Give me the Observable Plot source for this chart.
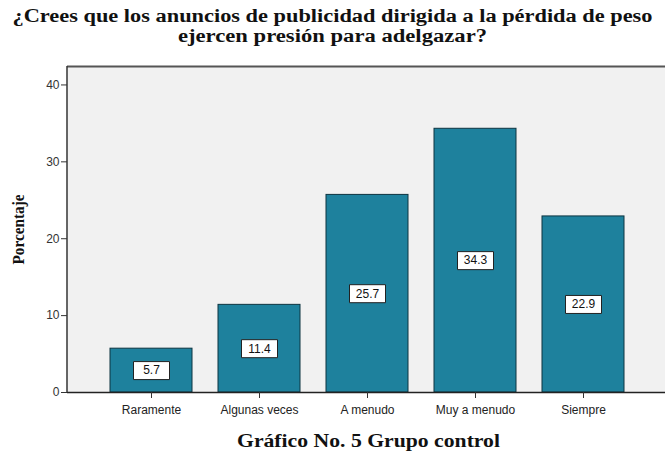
<!DOCTYPE html>
<html><head><meta charset="utf-8">
<script src="https://cdn.jsdelivr.net/npm/d3@7"></script>
<script src="https://cdn.jsdelivr.net/npm/@observablehq/plot@0.6"></script>
<style>body{margin:0;background:#fff}</style>
</head><body><div id="chart"></div>
<script>
const categories = ["Raramente", "Algunas veces", "A menudo", "Muy a menudo", "Siempre"];
const values = [5.7, 11.4, 25.7, 34.3, 22.9];
const yTicks = [0, 10, 20, 30, 40];
const title1 = "¿Crees que los anuncios de publicidad dirigida a la pérdida de peso";
const title2 = "ejercen presión para adelgazar?";
const caption = "Gráfico No. 5 Grupo control";
const yLabel = "Porcentaje";

const data = categories.map((c, i) => ({category: c, value: values[i]}));
const yMax = 42.4;
const labelBox = {draw(ctx) { ctx.rect(-18, -9, 36, 18); }};
const serif = "'Liberation Serif', 'Times New Roman', serif";

const chart = Plot.plot({
  width: 665, height: 456,
  marginLeft: 67, marginRight: 0, marginTop: 66, marginBottom: 64,
  style: {fontFamily: "'Liberation Sans', Arial, sans-serif", fontSize: "12px", background: "#fff", color: "#222"},
  x: {domain: categories, range: [67, 668], paddingInner: 0.24, paddingOuter: 0.4, label: null},
  y: {domain: [0, yMax], label: null},
  marks: [
    Plot.frame({fill: "#f1f1f1", stroke: null}),
    Plot.barY(data, {x: "category", y: "value", fill: "#1e819d", stroke: "#0d3440", strokeWidth: 1}),
    Plot.dot(data, {x: "category", y: d => d.value / 2, symbol: labelBox, fill: "white", stroke: "#222", strokeWidth: 1}),
    Plot.text(data, {x: "category", y: d => d.value / 2, text: d => d.value.toFixed(1), fill: "#111", fontSize: 12}),
    Plot.ruleY([yMax], {stroke: "#555", strokeWidth: 2}),
    Plot.axisY(yTicks, {tickSize: 6, tickPadding: 2, stroke: "#333", fill: "#333", fontSize: 12}),
    Plot.ruleY([0], {stroke: "#222", strokeWidth: 1.5}),
    Plot.axisX({tickSize: 6, tickPadding: 7, stroke: "#333", fill: "#222", fontSize: 12}),
    Plot.text([title1], {frameAnchor: "top", lineAnchor: "bottom", dx: -34, dy: -45, fontFamily: serif, fontWeight: "bold", fontSize: 18, fill: "#111"}),
    Plot.text([title2], {frameAnchor: "top", lineAnchor: "bottom", dx: -34, dy: -25, fontFamily: serif, fontWeight: "bold", fontSize: 18, fill: "#111"}),
    Plot.text([caption], {frameAnchor: "bottom", lineAnchor: "bottom", dx: 2, dy: 54, fontFamily: serif, fontWeight: "bold", fontSize: 18, fill: "#111"}),
    Plot.text([yLabel], {frameAnchor: "left", rotate: -90, textAnchor: "middle", dx: -49, fontFamily: serif, fontWeight: "bold", fontSize: 16, fill: "#111"})
  ]
});
const svg = d3.select(chart);
svg.append("line").attr("x1", 67).attr("x2", 67).attr("y1", 66).attr("y2", 392).attr("stroke", "#333").attr("stroke-width", 1.5);
document.getElementById("chart").append(chart);
const targets = new Map([[title1, 640], [title2, 309], [caption, 263], [yLabel, 70]]);
svg.selectAll("text").each(function() {
  const t = this.textContent;
  if (targets.has(t)) {
    d3.select(this).attr("textLength", targets.get(t)).attr("lengthAdjust", "spacingAndGlyphs");
  }
});
</script>
</body></html>
